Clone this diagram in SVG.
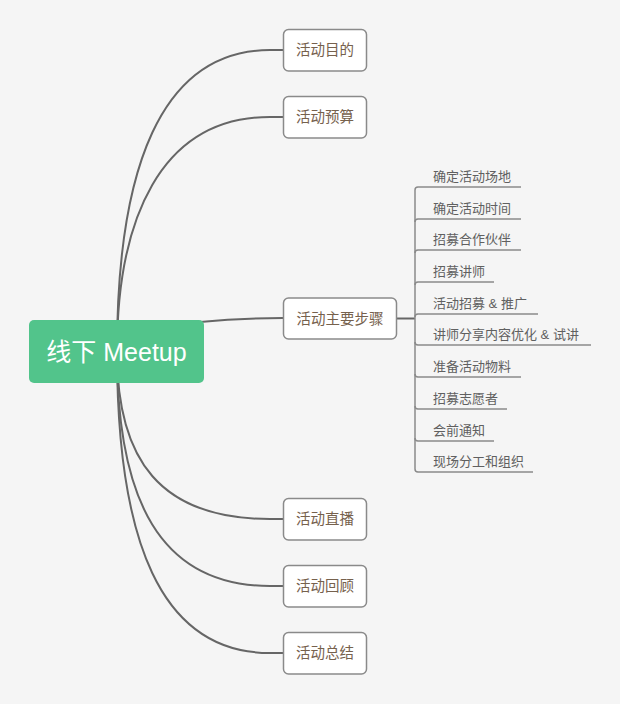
<svg xmlns="http://www.w3.org/2000/svg" width="620" height="704" viewBox="0 0 620 704">
<style>
.conn{fill:none;stroke:#666;stroke-width:2}
.sub{fill:none;stroke:#8a8a8a;stroke-width:1.5}
.box{fill:#fff;stroke:#8a8a8a;stroke-width:1.5}
.bt{font-family:"Liberation Sans","Noto Sans CJK SC",sans-serif;font-size:14.5px;fill:#76614d;text-anchor:middle}
.st{font-family:"Liberation Sans","Noto Sans CJK SC",sans-serif;font-size:13px;fill:#606060}
.rt{font-family:"Liberation Sans","Noto Sans CJK SC",sans-serif;font-size:25px;fill:#fff;text-anchor:middle}
</style>
<rect width="620" height="704" fill="#f5f5f5"/>
<g id="connectors">
<path class="conn" d="M117,352 C117,170 160,50 270,50 L283,50"/>
<path class="conn" d="M117,352 C117,220 160,117 270,117 L283,117"/>
<path class="conn" d="M200,322 Q240,318 283,318"/>
<path class="conn" d="M117,352 C117,460 160,519 270,519 L283,519"/>
<path class="conn" d="M117,352 C117,500 160,586 270,586 L283,586"/>
<path class="conn" d="M117,352 C117,540 160,653 270,653 L283,653"/>
<path class="conn" d="M397,318.5 L415,318.5"/>
<path class="sub" d="M415,190 Q415,187 418,187 L521,187"/>
<path class="sub" d="M415,190 L415,469 Q415,472 418,472 L533,472"/>
<path class="sub" d="M415,222 Q415,219 418,219 L521,219"/>
<path class="sub" d="M415,253 Q415,250 418,250 L521,250"/>
<path class="sub" d="M415,285 Q415,282 418,282 L494,282"/>
<path class="sub" d="M415,317 Q415,314 418,314 L538,314"/>
<path class="sub" d="M415,342 Q415,345 418,345 L591,345"/>
<path class="sub" d="M415,374 Q415,377 418,377 L521,377"/>
<path class="sub" d="M415,406 Q415,409 418,409 L507,409"/>
<path class="sub" d="M415,438 Q415,441 418,441 L494,441"/>
</g>
<g id="root">
<rect x="29" y="320" width="175" height="63" rx="5" fill="#52c48b"/>
<text class="rt" x="116.5" y="361">线下 Meetup</text>
</g>
<g id="n1"><rect class="box" x="283.5" y="29.5" width="83" height="41.5" rx="5"/><text class="bt" x="325" y="55">活动目的</text></g>
<g id="n2"><rect class="box" x="283.5" y="96.5" width="83" height="41.5" rx="5"/><text class="bt" x="325" y="122">活动预算</text></g>
<g id="n3"><rect class="box" x="283.5" y="298" width="113" height="41" rx="5"/><text class="bt" x="340" y="324">活动主要步骤</text></g>
<g id="n4"><rect class="box" x="283.5" y="498.5" width="83" height="41.5" rx="5"/><text class="bt" x="325" y="524">活动直播</text></g>
<g id="n5"><rect class="box" x="283.5" y="565.5" width="83" height="41.5" rx="5"/><text class="bt" x="325" y="591">活动回顾</text></g>
<g id="n6"><rect class="box" x="283.5" y="632.5" width="83" height="41.5" rx="5"/><text class="bt" x="325" y="658">活动总结</text></g>
<g id="s1"><text class="st" x="433" y="181">确定活动场地</text></g>
<g id="s2"><text class="st" x="433" y="213">确定活动时间</text></g>
<g id="s3"><text class="st" x="433" y="244">招募合作伙伴</text></g>
<g id="s4"><text class="st" x="433" y="276">招募讲师</text></g>
<g id="s5"><text class="st" x="433" y="308" xml:space="preserve">活动招募 &amp; 推广</text></g>
<g id="s6"><text class="st" x="433" y="339" xml:space="preserve">讲师分享内容优化 &amp; 试讲</text></g>
<g id="s7"><text class="st" x="433" y="371">准备活动物料</text></g>
<g id="s8"><text class="st" x="433" y="403">招募志愿者</text></g>
<g id="s9"><text class="st" x="433" y="435">会前通知</text></g>
<g id="s10"><text class="st" x="433" y="466">现场分工和组织</text></g>
</svg>
